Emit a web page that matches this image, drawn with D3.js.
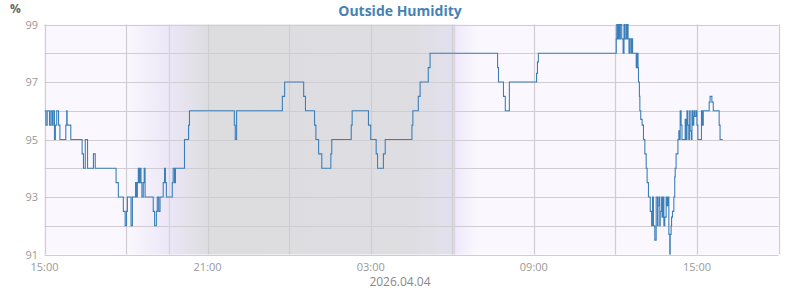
<!DOCTYPE html>
<html>
<head>
<meta charset="utf-8">
<script src="https://d3js.org/d3.v7.min.js"></script>
<style>
  body { margin: 0; background: #fff; }
  svg { display: block; font-family: "Open Sans", "Noto Sans", sans-serif; }
</style>
</head>
<body>
<script>

// readings: [minutes after 2026-04-03 15:00, humidity %], value holds until the next entry
var eveningReadings = [
  [0, 96], [3, 95.5], [6, 96], [11, 95.5], [14, 96], [17, 95.5], [19, 96], [22, 95],
  [24, 95.5], [27, 96], [31, 95.5], [34, 95], [47, 95.5], [49, 96], [50, 95.5], [58, 95],
  [83, 94.5], [86, 94], [90, 95], [95, 94], [108, 94.5], [112, 94],
  [158, 93.5], [163, 93], [174, 92.5], [178, 92], [181, 92.5], [183, 93], [191, 92], [194, 93],
  [201, 93.5], [203, 93], [205, 93.5], [207, 94], [209, 93.5], [211, 94], [213, 93.5], [215, 93],
  [218, 93.5], [220, 94], [222, 93], [240, 92.5], [243, 92], [247, 92.5], [249, 93], [252, 92.5],
  [255, 93], [262, 93.5], [265, 94], [267, 93.5], [269, 93], [282, 93.5], [284, 94], [287, 93.5],
  [289, 94], [309, 95], [318, 95.5], [320, 96]
];

var nightReadings = [
  [419, 95.5], [421, 95], [424, 96], [525, 96.5], [530, 97], [572, 96.5], [576, 96],
  [596, 95.5], [599, 95], [605, 94.5], [612, 94], [632, 94.5], [634, 95], [677, 95.5], [679, 96],
  [715, 95.5], [720, 95], [732, 94.5], [735, 94], [748, 94.5], [752, 95], [811, 95.5], [813, 96],
  [825, 96.5], [829, 97], [847, 97.5], [851, 98], [1000, 97.5], [1002, 97], [1013, 96.5],
  [1017, 96], [1026, 97], [1086, 97.3], [1088, 97.7], [1090, 98]
];

var dayReadings = [
  [1262, 98.5], [1263, 99], [1265, 98.5], [1267, 99], [1269, 98.5], [1271, 99], [1274, 98.5],
  [1277, 98], [1279, 99], [1280, 98.5], [1283, 99], [1284, 98.5], [1286, 99], [1288, 98.5],
  [1290, 98], [1292, 98.5], [1295, 98], [1297, 98.5], [1298, 98], [1306, 97.5], [1308, 98],
  [1310, 97.5], [1311, 97], [1313, 96.5], [1314, 96], [1316, 95.7], [1319, 95.5], [1322, 95],
  [1325, 94.5], [1328, 94], [1330, 93.5], [1333, 93], [1337, 92.5], [1340, 92], [1342, 93],
  [1344, 92], [1347, 91.5], [1350, 93], [1353, 92], [1354, 92.7], [1356, 93], [1358, 92],
  [1359, 92.5], [1362, 93], [1363, 92.3], [1365, 93], [1367, 92], [1369, 92.3], [1372, 93],
  [1374, 92.7], [1376, 93], [1378, 91.7], [1380, 91], [1381, 91.7], [1383, 92], [1384, 92.3],
  [1386, 92.5], [1389, 93], [1391, 93.7], [1392, 94], [1394, 94.5], [1398, 95], [1400, 95.3],
  [1401, 95], [1403, 96], [1405, 95.5], [1407, 95], [1414, 95.7], [1416, 95], [1418, 96],
  [1420, 95.5], [1422, 95], [1424, 96], [1425, 95.3], [1428, 95], [1429, 96], [1431, 95.5],
  [1433, 95.8], [1434, 96], [1436, 95.8], [1439, 96], [1440, 95.5], [1442, 95], [1450, 96],
  [1452, 95.5], [1454, 96], [1467, 96.3], [1469, 96.5], [1473, 96.3], [1476, 96],
  [1489, 95.5], [1491, 95], [1497, 95]
];

var yTicks = [91, 93, 95, 97, 99];
var yGrid = [91, 92, 93, 94, 95, 96, 97, 98, 99];
var xLabelHours = [0, 6, 12, 18, 24];          // hours after start
var xGridHours = [0, 3, 6, 9, 12, 15, 18, 21, 24, 27];

// night shading, in minutes after start: [minute, colour]
var nightStops = [
  [180, "#faf8fe"], [274, "#ece6f7"], [360, "#dddde0"],
  [820, "#dedee2"], [903, "#e3e0ee"], [905, "#eee8fa"], [955, "#faf8fe"]
];
var sunLines = [274, 904];

var start = new Date(2026, 3, 3, 15, 0);
function at(min) { return new Date(start.getTime() + min * 60000); }

var W = 800, H = 290;
var pLeft = 44.5, pRight = 778.5, pTop = 24.5, pBottom = 254.5;

var svg = d3.select("body").append("svg").attr("width", W).attr("height", H);

var x = d3.scaleTime().domain([at(0), at(27 * 60)]).range([pLeft, pRight]);
var y = d3.scaleLinear().domain([91, 99]).range([pBottom, pTop]);

// background + night gradient
var defs = svg.append("defs");
var grad = defs.append("linearGradient").attr("id", "night")
  .attr("gradientUnits", "userSpaceOnUse")
  .attr("x1", pLeft).attr("x2", pRight).attr("y1", 0).attr("y2", 0);
grad.selectAll("stop").data(nightStops).enter().append("stop")
  .attr("offset", function(d) { return (x(at(d[0])) - pLeft) / (pRight - pLeft); })
  .attr("stop-color", function(d) { return d[1]; });
grad.insert("stop", ":first-child").attr("offset", 0).attr("stop-color", "#faf8fe");
grad.append("stop").attr("offset", 1).attr("stop-color", "#faf8fe");

defs.append("clipPath").attr("id", "plotclip").append("rect")
  .attr("x", pLeft).attr("y", pTop - 1).attr("width", pRight - pLeft).attr("height", pBottom - pTop + 1);

svg.append("rect").attr("x", pLeft).attr("y", pTop)
  .attr("width", pRight - pLeft).attr("height", pBottom - pTop)
  .attr("fill", "url(#night)");

// grid
svg.append("g").selectAll("line").data(yGrid).enter().append("line")
  .attr("x1", pLeft).attr("x2", pRight)
  .attr("y1", function(d) { return Math.round(y(d)) + 0.5; })
  .attr("y2", function(d) { return Math.round(y(d)) + 0.5; })
  .attr("stroke", "#cfcdd2").attr("stroke-width", 1.2);

svg.append("g").selectAll("line").data(xGridHours).enter().append("line")
  .attr("x1", function(d) { return Math.round(x(at(d * 60))) + 0.5; })
  .attr("x2", function(d) { return Math.round(x(at(d * 60))) + 0.5; })
  .attr("y1", pTop).attr("y2", pBottom)
  .attr("stroke", "#cfcdd2").attr("stroke-width", 1.2);

svg.append("g").selectAll("line").data(sunLines).enter().append("line")
  .attr("x1", function(d) { return Math.round(x(at(d))) + 0.5; })
  .attr("x2", function(d) { return Math.round(x(at(d))) + 0.5; })
  .attr("y1", pTop).attr("y2", pBottom)
  .attr("stroke", "#d6d2dc").attr("stroke-width", 1.2);

// humidity line
var readings = eveningReadings.concat(nightReadings, dayReadings);
var line = d3.line()
  .x(function(d) { return x(at(d[0])); })
  .y(function(d) { return y(d[1]); })
  .curve(d3.curveStepAfter);

svg.append("path").datum(readings)
  .attr("clip-path", "url(#plotclip)")
  .attr("d", line)
  .attr("fill", "none")
  .attr("stroke", "#3b7fb9")
  .attr("stroke-width", 1.1);

// axis labels
svg.append("g").selectAll("text").data(yTicks).enter().append("text")
  .attr("x", 38).attr("y", function(d) { return y(d) + 4; })
  .attr("text-anchor", "end").attr("font-size", 11).attr("fill", "#999")
  .text(function(d) { return d; });

var fmt = d3.timeFormat("%H:%M");
svg.append("g").selectAll("text").data(xLabelHours).enter().append("text")
  .attr("x", function(d) { return x(at(d * 60)); })
  .attr("y", 271).attr("text-anchor", "middle")
  .attr("font-size", 11).attr("fill", "#999")
  .text(function(d) { return fmt(at(d * 60)); });

svg.append("text").attr("x", 400).attr("y", 286).attr("text-anchor", "middle")
  .attr("font-size", 12).attr("fill", "#888").text("2026.04.04");

svg.append("text").attr("x", 10).attr("y", 13)
  .attr("font-size", 12).attr("font-weight", "bold").attr("fill", "#666").text("%");

svg.append("text").attr("x", 400).attr("y", 16).attr("text-anchor", "middle")
  .attr("font-size", 14).attr("font-weight", "bold").attr("fill", "#4682b4")
  .text("Outside Humidity");

</script>
</body>
</html>
